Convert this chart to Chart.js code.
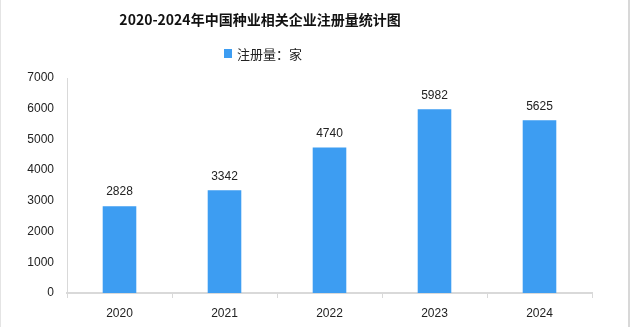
<!DOCTYPE html>
<html>
<head>
<meta charset="utf-8">
<script src="https://cdn.jsdelivr.net/npm/chart.js@4"></script>
<style>
	html, body { margin: 0; padding: 0; background: #fff; }
	#wrap { position: relative; width: 630px; height: 327px; }
	#wrap::after {
		content: ""; position: absolute; left: 0; top: 0; right: 0; bottom: 0;
		border-left: 1px solid #e4e4e4; border-right: 2px solid #d8d8d8; pointer-events: none;
	}
</style>
</head>
<body>
<div id="wrap"><canvas id="chart" width="630" height="327"></canvas></div>
<script>
const years = ["2020", "2021", "2022", "2023", "2024"];
const registrations = [2828, 3342, 4740, 5982, 5625];
const yTicks = [0, 1000, 2000, 3000, 4000, 5000, 6000, 7000];
const seriesName = "注册量：家";
const titleText = "2020-2024年中国种业相关企业注册量统计图";

const barColor = "#3d9df2";
const axisColor = "#d9d9d9";
const textColor = "#222";
const numFont = "'Liberation Sans', sans-serif";
const cjkFont = "'Noto Sans CJK SC', sans-serif";

// title, legend and value labels, placed like the original (centred left of middle)
const headerAndLabels = {
	id: "headerAndLabels",
	afterDatasetsDraw(chart) {
		const ctx = chart.ctx;
		const meta = chart.getDatasetMeta(0);
		ctx.save();

		// title
		ctx.font = "bold 14px " + cjkFont;
		ctx.fillStyle = "#111";
		ctx.textAlign = "center";
		ctx.textBaseline = "middle";
		ctx.fillText(titleText, 260, 20);

		// legend
		ctx.fillStyle = barColor;
		ctx.fillRect(224, 49, 8, 9);
		ctx.font = "13px " + cjkFont;
		ctx.fillStyle = textColor;
		ctx.textAlign = "left";
		ctx.fillText(seriesName, 237, 54);

		// values above bars
		ctx.font = "12px " + numFont;
		ctx.textAlign = "center";
		ctx.textBaseline = "bottom";
		meta.data.forEach((bar, i) => {
			ctx.fillText(String(registrations[i]), bar.x, bar.y - 8);
		});
		ctx.restore();
	},
};

new Chart(document.getElementById("chart"), {
	type: "bar",
	data: {
		labels: years,
		datasets: [
			{
				label: seriesName,
				data: registrations,
				backgroundColor: barColor,
				borderWidth: 0,
				categoryPercentage: 1,
				barPercentage: 0.32,
			},
		],
	},
	options: {
		responsive: false,
		animation: false,
		layout: { padding: { left: 0, right: 38, top: 78, bottom: 0 } },
		plugins: {
			title: { display: false },
			legend: { display: false },
			tooltip: { enabled: false },
		},
		scales: {
			y: {
				min: yTicks[0],
				max: yTicks[yTicks.length - 1],
				afterBuildTicks(scale) {
					scale.ticks = yTicks.map((v) => ({ value: v }));
				},
				ticks: {
					color: textColor,
					font: { family: numFont, size: 12 },
					padding: 8,
					callback: (v) => String(v),
				},
				grid: { display: false, drawTicks: true, tickLength: 5, color: axisColor },
				border: { display: true, color: axisColor },
				afterFit(scale) {
					scale.width = 67;
				},
			},
			x: {
				ticks: {
					color: textColor,
					font: { family: numFont, size: 12 },
					padding: 8,
				},
				grid: { display: true, drawOnChartArea: false, offset: true, tickLength: 5, color: axisColor },
				border: { display: true, color: axisColor, width: 2 },
				afterFit(scale) {
					scale.height = 34;
				},
			},
		},
	},
	plugins: [headerAndLabels],
});
</script>
</body>
</html>
